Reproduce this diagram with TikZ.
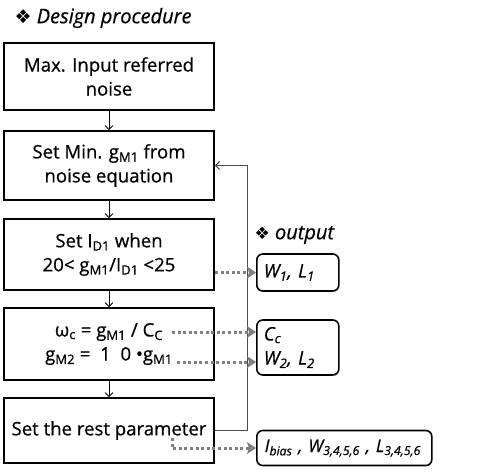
\documentclass[tikz,border=0pt]{standalone}
\usepackage{fontspec}
\setmainfont{Open Sans}[FakeBold=0.6]
\newfontfamily\dingfont{DejaVu Sans}
\usetikzlibrary{arrows.meta}

\tikzset{stepbox/.style={draw,line width=1.8pt,minimum width=210pt,align=center,inner sep=0pt,font=\fontsize{18.6}{24}\selectfont},
         outbox/.style={draw,line width=1.6pt,rounded corners=6pt,align=left,anchor=west,inner xsep=7pt,inner ysep=0pt,font=\fontsize{18.6}{24}\selectfont\itshape},
         flow/.style={line width=0.8pt,-{Straight Barb[length=4pt,width=8pt]}},
         loopline/.style={draw=black!70,line width=1pt,-{Straight Barb[length=4pt,width=8pt]}},
         result/.style={draw=black!50,line width=3pt,dash pattern=on 3pt off 2.6pt,-{Stealth[length=9pt,width=12pt,inset=2pt]}},
         heading/.style={anchor=west,font=\fontsize{20}{22}\selectfont\itshape}}

\begin{document}
\begin{tikzpicture}[x=1pt,y=-1pt]
        \useasboundingbox (0,0) rectangle (479,472);
        \node[heading] (title) at (11,18) {{\dingfont\fontsize{19}{19}\selectfont ❖}\ Design procedure};
        % design steps
        \node[stepbox,minimum height=67pt] (b1) at (109,76.5) {Max. Input referred\\noise};
        \node[stepbox,minimum height=69pt] (b2) at (109,165.5) {Set Min. g\textsubscript{M1} from\\noise equation};
        \node[stepbox,minimum height=71pt] (b3) at (109,254.5) {Set I\textsubscript{D1} when\\20< g\textsubscript{M1}/I\textsubscript{D1} <25};
        \node[stepbox,minimum height=72pt] (b4) at (109,344) {ω\textsubscript{c} = g\textsubscript{M1} / C\textsubscript{C}\\g\textsubscript{M2}\ =\ \ 1\ \ 0\ •g\textsubscript{M1}};
        \node[stepbox,minimum height=65pt] (b5) at (109,430.5) {Set the rest parameter};
        \draw[flow] (b1) -- (b2);
        \draw[flow] (b2) -- (b3);
        \draw[flow] (b3) -- (b4);
        \draw[flow] (b4) -- (b5);
        \draw[loopline] (b5.east) -- ++(33,0) |- (b2.east);
        % outputs
        \node[heading] (outtitle) at (251,235) {{\dingfont\fontsize{17}{17}\selectfont ❖}\ output};
        \node[outbox,minimum width=82pt,minimum height=37pt,text width=68pt] (o1) at (256,272.5) {W\textsubscript{1}, L\textsubscript{1}};
        \node[outbox,minimum width=82pt,minimum height=55pt,text width=68pt] (o2) at (256,347.5) {C\textsubscript{c}\\W\textsubscript{2}, L\textsubscript{2}};
        \node[outbox,minimum width=175pt,minimum height=35pt,text width=165pt,inner xsep=5pt,font=\fontsize{17.5}{22}\selectfont\itshape] (o3) at (256,448) {\mbox{\,I\textsubscript{bias} , W\textsubscript{3,4,5,6} , L\textsubscript{3,4,5,6}}};
        \coordinate (wc) at (172,332);
        \coordinate (gm) at (177,362);
        \coordinate (rest) at (172,438);
        \draw[result] (b3.east |- o1.west) -- (o1.west);
        \draw[result] (wc) -- (wc -| o2.west);
        \draw[result] (gm) -- (gm -| o2.west);
        \draw[result] (rest) |- (o3.west);
\end{tikzpicture}
\end{document}
